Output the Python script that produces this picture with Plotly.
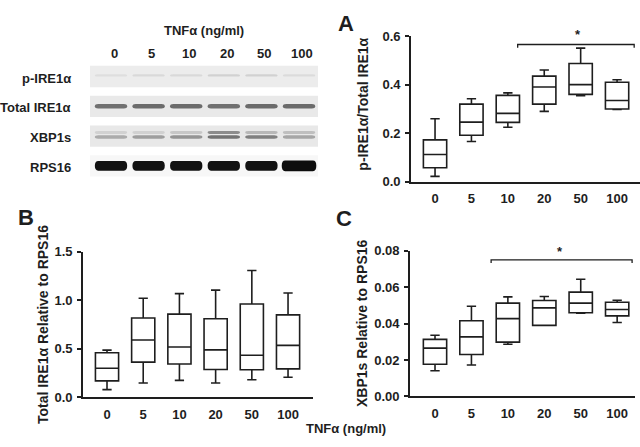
import plotly.graph_objects as go

# ---------------- data ----------------
doses = ["0", "5", "10", "20", "50", "100"]
xpos = [0, 1, 2, 3, 4, 5]

# Panel A: p-IRE1a / Total IRE1a
a_lower = [0.023, 0.166, 0.225, 0.29, 0.355, 0.298]
a_q1 = [0.058, 0.192, 0.245, 0.32, 0.36, 0.30]
a_median = [0.113, 0.246, 0.282, 0.39, 0.40, 0.335]
a_q3 = [0.173, 0.32, 0.356, 0.435, 0.487, 0.41]
a_upper = [0.26, 0.342, 0.366, 0.46, 0.55, 0.42]

# Panel B: Total IRE1a relative to RPS16
b_lower = [0.08, 0.149, 0.175, 0.149, 0.182, 0.208]
b_q1 = [0.17, 0.363, 0.344, 0.287, 0.284, 0.294]
b_median = [0.30, 0.59, 0.519, 0.489, 0.433, 0.535]
b_q3 = [0.46, 0.816, 0.856, 0.809, 0.961, 0.849]
b_upper = [0.486, 1.02, 1.067, 1.103, 1.305, 1.074]

# Panel C: XBP1s relative to RPS16
c_lower = [0.0141, 0.0173, 0.0286, 0.039, 0.0456, 0.0406]
c_q1 = [0.0177, 0.023, 0.0298, 0.039, 0.0459, 0.0442]
c_median = [0.0265, 0.0327, 0.0427, 0.0486, 0.0512, 0.0477]
c_q3 = [0.0313, 0.0415, 0.0512, 0.0526, 0.0572, 0.0517]
c_upper = [0.0336, 0.0495, 0.0546, 0.0548, 0.0643, 0.0528]

# significance brackets (x start, x end, y level)
a_sig = [2.27, 5.47, 0.565]
c_sig = [1.54, 5.41, 0.0749]

# Western blot (band darkness 0..1 per lane)
blot_rows = ["p-IRE1α", "Total IRE1α", "XBP1s", "RPS16"]
p_ire1_band = [0.13, 0.15, 0.15, 0.18, 0.18, 0.14]
total_ire1_band = [0.56, 0.58, 0.58, 0.56, 0.58, 0.58]
xbp1s_upper_band = [0.18, 0.18, 0.22, 0.45, 0.28, 0.25]
xbp1s_lower_band = [0.33, 0.38, 0.42, 0.55, 0.50, 0.35]
rps16_band = [0.93, 0.93, 0.93, 0.93, 0.93, 0.95]

# ---------------- styling ----------------
FONT = "Liberation Sans, Arial, sans-serif"
TXT = "#1e1e1e"
LINE = "#1e1e1e"

fig = go.Figure()

def add_box(q1, med, q3, lo, hi, xa, ya):
    fig.add_trace(go.Box(
        x=xpos, q1=q1, median=med, q3=q3, lowerfence=lo, upperfence=hi,
        xaxis=xa, yaxis=ya, width=0.64, whiskerwidth=0.4,
        fillcolor="white", line=dict(color=LINE, width=1.6),
        boxpoints=False, showlegend=False, hoverinfo="skip"))

add_box(a_q1, a_median, a_q3, a_lower, a_upper, "x", "y")
add_box(b_q1, b_median, b_q3, b_lower, b_upper, "x2", "y2")
add_box(c_q1, c_median, c_q3, c_lower, c_upper, "x3", "y3")

def add_bracket(sig, tick, xa, ya):
    x0, x1, yb = sig
    fig.add_trace(go.Scatter(
        x=[x0, x0, x1, x1], y=[yb - tick, yb, yb, yb - tick], mode="lines",
        line=dict(color=LINE, width=1.3), xaxis=xa, yaxis=ya,
        showlegend=False, hoverinfo="skip", cliponaxis=False))

add_bracket(a_sig, 0.013, "x", "y")
add_bracket(c_sig, 0.0017, "x3", "y3")

tickfont = dict(family=FONT, size=13, color=TXT, weight="bold")

def xaxis_cfg(dom, rng):
    return dict(domain=dom, range=rng, tickvals=xpos, ticktext=doses,
                showline=True, linecolor=LINE, linewidth=1.8, ticks="",
                showgrid=False, zeroline=False, tickfont=tickfont,
                ticklabelstandoff=4, fixedrange=True)

def yaxis_cfg(dom, rng, dtick, fmt, anchor):
    return dict(domain=dom, range=rng, dtick=dtick, tickformat=fmt,
                showline=True, linecolor=LINE, linewidth=1.8, ticks="outside",
                ticklen=4, tickwidth=1.5, tickcolor=LINE, showgrid=False,
                zeroline=False, tickfont=tickfont, anchor=anchor,
                ticklabelstandoff=2, fixedrange=True)

fig.update_layout(
    width=640, height=447, margin=dict(l=0, r=0, t=0, b=0),
    paper_bgcolor="white", plot_bgcolor="white",
    xaxis=dict(xaxis_cfg([0.6422, 1.0], [-0.66, 5.63]), anchor="y"),
    yaxis=yaxis_cfg([0.5951, 0.9329], [0, 0.6], 0.2, ".1f", "x"),
    xaxis2=dict(xaxis_cfg([0.1297, 0.4891], [-0.663, 5.69]), anchor="y2"),
    yaxis2=yaxis_cfg([0.0962, 0.4340], [0, 1.5], 0.5, ".1f", "x2"),
    xaxis3=dict(xaxis_cfg([0.6406, 0.9922], [-0.687, 5.49]), anchor="y3"),
    yaxis3=yaxis_cfg([0.0984, 0.4362], [0, 0.08], 0.02, ".2f", "x3"),
    xaxis4=dict(domain=[0.1406, 0.4969], range=[-0.559, 5.505], visible=False,
                anchor="y4", fixedrange=True),
    yaxis4=dict(domain=[0.5861, 0.8881], range=[3.67, -0.714], visible=False,
                anchor="x4", fixedrange=True),
)

# ---------------- western blot ----------------
strip_colors = ["#ececec", "#e9e9e9", "#e8e8e8", "#f7f7f7"]
for r, col in enumerate(strip_colors):
    fig.add_shape(type="rect", xref="x4", yref="y4", x0=-0.559, x1=5.505,
                  y0=r - 0.36, y1=r + 0.36, fillcolor=col, line_width=0, layer="below")

def gray(d):
    v = int(round(255 * (1 - d)))
    return f"rgb({v},{v},{v})"

def pill(xc, yc, hw, hh, cap):
    x0, x1 = xc - hw, xc + hw
    y0, y1 = yc - hh, yc + hh
    return (f"M {x0},{y0} L {x1},{y0} Q {x1 + cap},{y0} {x1 + cap},{yc} "
            f"Q {x1 + cap},{y1} {x1},{y1} L {x0},{y1} Q {x0 - cap},{y1} {x0 - cap},{yc} "
            f"Q {x0 - cap},{y0} {x0},{y0} Z")

band_sets = [
    (p_ire1_band, 0, -0.04, 0.04, 0.34),
    (total_ire1_band, 1, 0.0, 0.075, 0.34),
    (xbp1s_upper_band, 2, -0.12, 0.05, 0.34),
    (xbp1s_lower_band, 2, 0.03, 0.055, 0.34),
    (rps16_band, 3, 0.0, 0.16, 0.34),
]
for vals, row, off, hh, hw in band_sets:
    for i, d in enumerate(vals):
        w = hw + (0.03 if (row == 3 and i == 5) else 0)
        h = hh + (0.02 if (row == 3 and i == 5) else 0)
        fig.add_shape(type="path", xref="x4", yref="y4",
                      path=pill(xpos[i], row + off, w, h, 0.09),
                      fillcolor=gray(d), line_width=0)

# blot labels
for r, name in enumerate(blot_rows):
    fig.add_annotation(text=f"<b>{name}</b>", xref="paper", yref="y4", x=0.114, y=r + 0.05,
                       xanchor="right", yanchor="middle", showarrow=False,
                       font=dict(family=FONT, size=13, color=TXT))
for i, d in enumerate(doses):
    fig.add_annotation(text=f"<b>{d}</b>", xref="x4", yref="paper", x=xpos[i] + 0.08, y=0.8926,
                       xanchor="center", yanchor="middle", showarrow=False,
                       font=dict(family=FONT, size=13, color=TXT))
fig.add_annotation(text="<b>TNFα (ng/ml)</b>", xref="paper", yref="paper", x=0.319, y=0.9463,
                   xanchor="center", yanchor="middle", showarrow=False,
                   font=dict(family=FONT, size=13, color=TXT))

# stars
fig.add_annotation(text="<b>*</b>", xref="paper", yref="paper", x=578 / 640, y=1 - 28 / 447,
                   showarrow=False, xanchor="center", yanchor="middle",
                   font=dict(family=FONT, size=13, color=TXT))
fig.add_annotation(text="<b>*</b>", xref="paper", yref="paper", x=560 / 640, y=1 - 253 / 447,
                   showarrow=False, xanchor="center", yanchor="middle",
                   font=dict(family=FONT, size=13, color=TXT))

# axis titles
for txt, x, y in [("p-IRE1α/Total IRE1α", 0.5672, 0.774),
                  ("Total IRE1α Relative to RPS16", 0.0672, 0.264),
                  ("XBP1s Relative to RPS16", 0.5656, 0.2685)]:
    fig.add_annotation(text=f"<b>{txt}</b>", xref="paper", yref="paper", x=x, y=y,
                       textangle=-90, xanchor="center", yanchor="middle", showarrow=False,
                       font=dict(family=FONT, size=14, color=TXT))

fig.add_annotation(text="<b>TNFα (ng/ml)</b>", xref="paper", yref="paper", x=0.5406, y=1 - 436 / 447,
                   xanchor="center", yanchor="middle", showarrow=False,
                   font=dict(family=FONT, size=13, color=TXT))

# panel letters
for t, x, y in [("A", 0.5406, 0.962), ("B", 0.0406, 0.5123), ("C", 0.5375, 0.5101)]:
    fig.add_annotation(text=f"<b>{t}</b>", xref="paper", yref="paper", x=x, y=y,
                       xanchor="center", yanchor="middle", showarrow=False,
                       font=dict(family=FONT, size=22, color=TXT))

fig.write_html("out.html", config={"displayModeBar": False},
               post_script="document.body.style.margin='0px';")
